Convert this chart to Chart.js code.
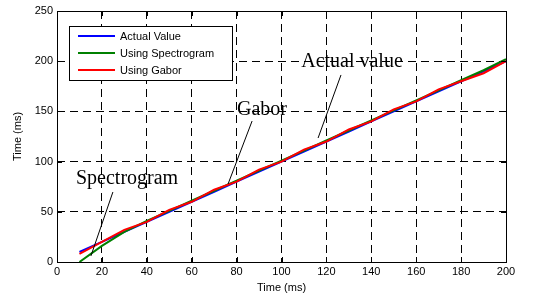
<!DOCTYPE html>
<html>
<head>
<meta charset="utf-8">
<script src="https://cdn.jsdelivr.net/npm/chart.js@4"></script>
<style>
  html, body { margin: 0; padding: 0; background: #fff; }
  #wrap { width: 546px; height: 297px; }
</style>
</head>
<body>
<div id="wrap"><canvas id="timeChart" width="546" height="297"></canvas></div>
<script>
// Data
const xValues = [10, 20, 30, 40, 50, 60, 70, 80, 90, 100, 110, 120, 130, 140, 150, 160, 170, 180, 190, 200];
const actualValues = [10, 20, 30, 40, 50, 60, 70, 80, 90, 100, 110, 120, 130, 140, 150, 160, 170, 180, 190, 200];
const spectrogramValues = [0, 16, 30, 41, 51, 61, 71, 81, 91, 101, 111, 121, 131, 141, 151, 161, 171, 181, 191, 202];
const gaborValues = [8, 20, 32, 40, 52, 60, 72, 80, 92, 100, 112, 120, 132, 140, 152, 160, 172, 180, 188, 200];
const seriesLabels = ['Actual Value', 'Using Spectrogram', 'Using Gabor'];
const xTicks = [0, 20, 40, 60, 80, 100, 120, 140, 160, 180, 200];
const yTicks = [0, 50, 100, 150, 200, 250];

// Annotations: text centre and pointer line, in data units
const noteTexts = ['Spectrogram', 'Gabor', 'Actual value'];
const noteTextX = [31.2, 91.3, 131.4];
const noteTextY = [82.7, 151.4, 199.2];
const noteLineFrom = [[24.9, 69.7], [86.9, 140.4], [126.5, 186.3]];
const noteLineTo = [[15.1, 6], [76.2, 77.7], [116.3, 123.5]];

function toPoints(ys) {
    return xValues.map((x, i) => ({ x: x, y: ys[i] }));
}

// Box, inward ticks, legend and annotations, MATLAB style
const matlabDecor = {
    id: 'matlabDecor',
    afterDraw(chart) {
        const ctx = chart.ctx;
        const a = chart.chartArea;
        const xs = chart.scales.x, ys = chart.scales.y;
        ctx.save();
        ctx.strokeStyle = '#000';
        ctx.lineWidth = 1;
        ctx.setLineDash([]);
        ctx.strokeRect(Math.round(a.left) + 0.5, Math.round(a.top) + 0.5,
            Math.round(a.right - a.left), Math.round(a.bottom - a.top));

        // tick marks
        ctx.beginPath();
        xTicks.forEach(v => {
            const px = Math.round(xs.getPixelForValue(v)) + 0.5;
            ctx.moveTo(px, a.bottom); ctx.lineTo(px, a.bottom - 5);
            ctx.moveTo(px, a.top); ctx.lineTo(px, a.top + 5);
        });
        yTicks.forEach(v => {
            const py = Math.round(ys.getPixelForValue(v)) + 0.5;
            ctx.moveTo(a.left, py); ctx.lineTo(a.left + 5, py);
            ctx.moveTo(a.right, py); ctx.lineTo(a.right - 5, py);
        });
        ctx.stroke();

        // annotations
        ctx.font = '20px "Liberation Serif", "Times New Roman", serif';
        ctx.fillStyle = '#000';
        ctx.textAlign = 'center';
        ctx.textBaseline = 'middle';
        noteTexts.forEach((t, i) => {
            ctx.fillText(t, xs.getPixelForValue(noteTextX[i]), ys.getPixelForValue(noteTextY[i]));
            ctx.beginPath();
            ctx.moveTo(xs.getPixelForValue(noteLineFrom[i][0]), ys.getPixelForValue(noteLineFrom[i][1]));
            ctx.lineTo(xs.getPixelForValue(noteLineTo[i][0]), ys.getPixelForValue(noteLineTo[i][1]));
            ctx.stroke();
        });

        // legend
        const lx = a.left + 12, ly = a.top + 15;
        ctx.fillStyle = '#fff';
        ctx.fillRect(lx, ly, 163, 54);
        ctx.strokeRect(lx + 0.5, ly + 0.5, 163, 54);
        ctx.font = '11px "Liberation Sans", Arial, sans-serif';
        ctx.textAlign = 'left';
        ctx.textBaseline = 'middle';
        chart.data.datasets.forEach((ds, i) => {
            const ry = ly + 10 + i * 17;
            ctx.strokeStyle = ds.borderColor;
            ctx.lineWidth = 2;
            ctx.beginPath();
            ctx.moveTo(lx + 9, ry); ctx.lineTo(lx + 46, ry);
            ctx.stroke();
            ctx.fillStyle = '#000';
            ctx.fillText(ds.label, lx + 51, ry + 0.5);
        });
        ctx.restore();
    }
};

const tickFont = { family: '"Liberation Sans", Arial, sans-serif', size: 11 };

const ctx = document.getElementById('timeChart').getContext('2d');
const timeChart = new Chart(ctx, {
    type: 'line',
    data: {
        datasets: [{
            label: seriesLabels[0],
            data: toPoints(actualValues),
            borderColor: '#0000ff',
            order: 2
        }, {
            label: seriesLabels[1],
            data: toPoints(spectrogramValues),
            borderColor: '#008000',
            order: 1
        }, {
            label: seriesLabels[2],
            data: toPoints(gaborValues),
            borderColor: '#ff0000',
            order: 0
        }]
    },
    options: {
        responsive: false,
        animation: false,
        layout: { padding: { top: 11, right: 40, left: 0, bottom: 0 } },
        elements: {
            point: { radius: 0 },
            line: { borderWidth: 2, tension: 0 }
        },
        plugins: {
            legend: { display: false },
            tooltip: { enabled: false }
        },
        scales: {
            x: {
                type: 'linear',
                min: 0,
                max: 200,
                afterBuildTicks: s => { s.ticks = xTicks.map(v => ({ value: v })); },
                afterFit: s => { s.height = 35; },
                grid: { color: '#000', lineWidth: 1, drawTicks: false },
                border: { display: false, dash: [8, 5] },
                ticks: { color: '#000', font: tickFont, padding: 3, maxRotation: 0 },
                title: { display: true, text: 'Time (ms)', color: '#000', font: tickFont, padding: { top: 0, bottom: 2 } }
            },
            y: {
                min: 0,
                max: 250,
                afterBuildTicks: s => { s.ticks = yTicks.map(v => ({ value: v })); },
                afterFit: s => { s.width = 57; },
                grid: { color: '#000', lineWidth: 1, drawTicks: false },
                border: { display: false, dash: [8, 5] },
                ticks: { color: '#000', font: tickFont, padding: 4 },
                title: { display: true, text: 'Time (ms)', color: '#000', font: tickFont, padding: { top: 11, bottom: 4 } }
            }
        }
    },
    plugins: [matlabDecor]
});
</script>
</body>
</html>
